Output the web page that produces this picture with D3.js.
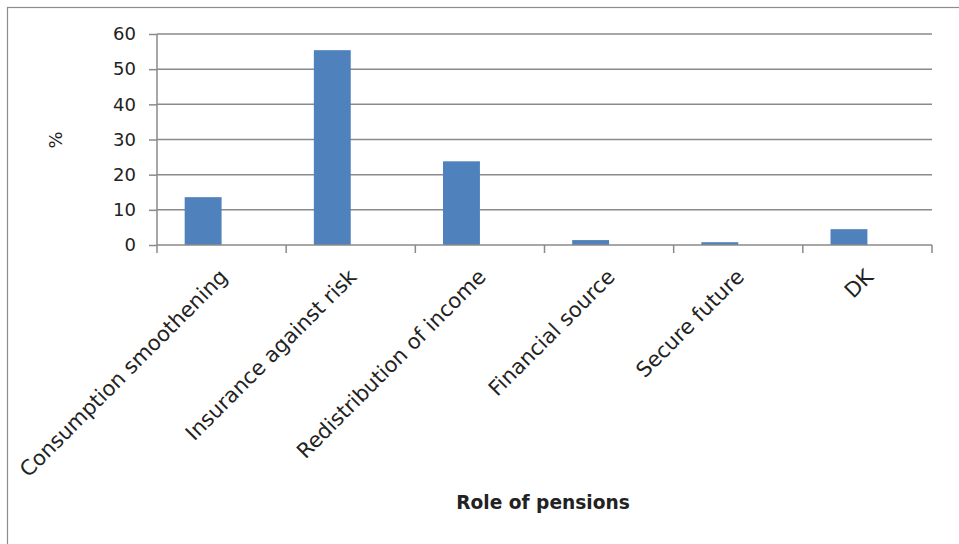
<!DOCTYPE html>
<html lang="en">
<head>
    <meta charset="UTF-8">
    <title>Role of pensions</title>
    <script src="https://d3js.org/d3.v7.min.js"></script>
    <style>
        body { margin: 0; background: #fff; }
        svg { display: block; }
        .grid line { stroke: #8a8a8a; stroke-width: 1.5px; }
        .axis text { font-family: "DejaVu Sans", Verdana, sans-serif; fill: #222; }
    </style>
</head>
<body>
    <svg width="959" height="544"></svg>

    <script>
        const categories = ["Consumption smoothening", "Insurance against risk", "Redistribution of income",
                            "Financial source", "Secure future", "DK"];
        const values = [13.6, 55.4, 23.8, 1.4, 0.8, 4.5];
        const yTicks = [0, 10, 20, 30, 40, 50, 60];
        const series = ["share", "empty"]; // Excel left room for a second (empty) series

        const svg = d3.select("svg");
        const margin = { left: 157, right: 27, top: 34, bottom: 299 };
        const width = 959 - margin.left - margin.right;
        const height = 544 - margin.top - margin.bottom;

        // Outer chart frame
        svg.append("rect")
            .attr("x", 7.5).attr("y", 7.5)
            .attr("width", 1000).attr("height", 600)
            .attr("fill", "none")
            .attr("stroke", "#8c8c8c")
            .attr("stroke-width", 1.2);

        const g = svg.append("g").attr("transform", `translate(${margin.left},${margin.top})`);

        const x = d3.scaleBand().domain(categories).range([0, width]);
        const xInner = d3.scaleBand().domain(series).range([0, x.bandwidth()]).paddingOuter(0.75);
        const y = d3.scaleLinear().domain([0, 60]).range([height, 0]);

        // Gridlines
        g.append("g").attr("class", "grid")
            .selectAll("line")
            .data(yTicks.filter(d => d > 0))
            .enter().append("line")
            .attr("x1", 0).attr("x2", width)
            .attr("y1", d => y(d)).attr("y2", d => y(d));

        // Bars
        g.append("g")
            .selectAll("rect")
            .data(values)
            .enter().append("rect")
            .attr("x", (d, i) => x(categories[i]) + xInner("share"))
            .attr("width", xInner.bandwidth())
            .attr("y", d => y(d))
            .attr("height", d => y(0) - y(d))
            .attr("fill", "#4f81bd");

        // Y axis
        const yAxis = g.append("g").attr("class", "axis")
            .call(d3.axisLeft(y).tickValues(yTicks).tickSize(8).tickPadding(13));
        yAxis.selectAll("line, path").attr("stroke", "#8a8a8a").attr("stroke-width", 1.5);
        yAxis.select(".domain").attr("d", `M0,${y(60)}V${y(0)}`);
        yAxis.selectAll("text").attr("font-size", 18).attr("font-family", "DejaVu Sans");

        // X axis: ticks at category boundaries
        const xAxis = g.append("g").attr("transform", `translate(0,${height})`);
        xAxis.append("line")
            .attr("x1", 0).attr("x2", width)
            .attr("stroke", "#8a8a8a").attr("stroke-width", 1.5);
        xAxis.selectAll(".tick")
            .data(d3.range(categories.length + 1))
            .enter().append("line")
            .attr("x1", d => d * x.step()).attr("x2", d => d * x.step())
            .attr("y1", 0).attr("y2", 8)
            .attr("stroke", "#8a8a8a").attr("stroke-width", 1.5);

        // Category labels, rotated
        xAxis.selectAll("text")
            .data(categories)
            .enter().append("text")
            .attr("transform", d => `translate(${x(d) + x.bandwidth() / 2 - 4},${22}) rotate(-45)`)
            .attr("text-anchor", "end")
            .attr("dy", "0.75em")
            .attr("font-family", "DejaVu Sans")
            .attr("font-size", 21)
            .attr("fill", "#222")
            .text(d => d);

        // Axis titles
        svg.append("text")
            .attr("transform", "translate(56,140) rotate(-90)")
            .attr("text-anchor", "middle")
            .attr("dy", "0.35em")
            .attr("font-family", "DejaVu Sans")
            .attr("font-size", 18)
            .attr("fill", "#222")
            .text("%");

        svg.append("text")
            .attr("x", 543).attr("y", 509)
            .attr("text-anchor", "middle")
            .attr("font-family", "DejaVu Sans")
            .attr("font-weight", "bold")
            .attr("font-size", 18.6)
            .attr("fill", "#222")
            .text("Role of pensions");
    </script>
</body>
</html>
